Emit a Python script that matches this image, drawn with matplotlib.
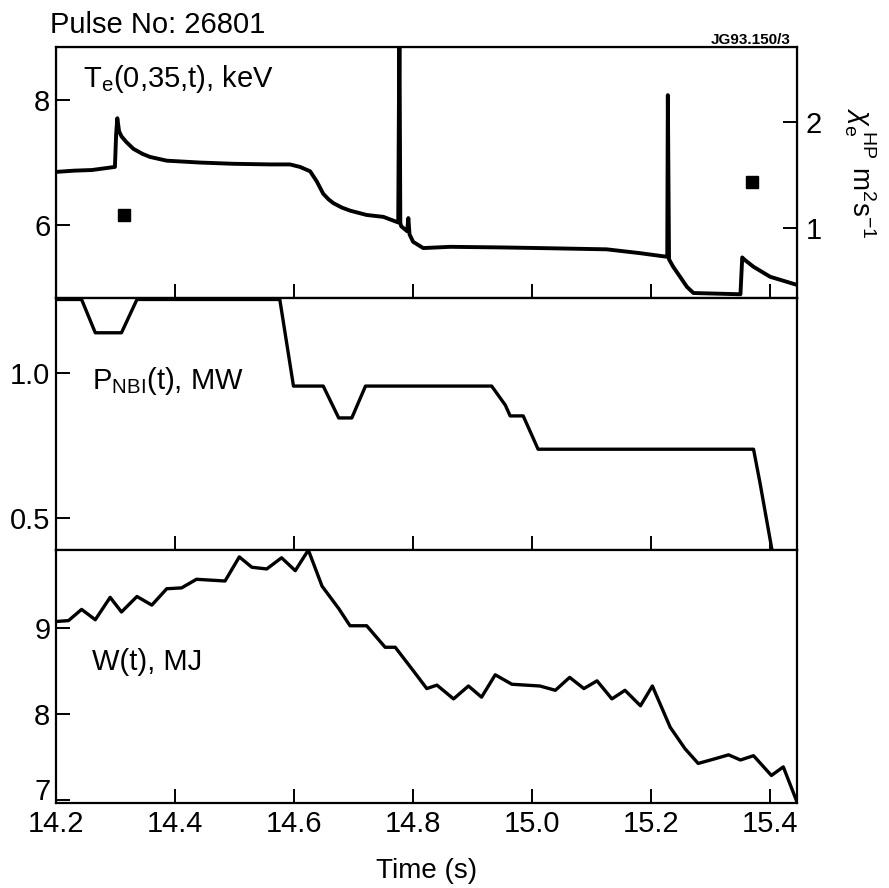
import matplotlib
matplotlib.use('Agg')
import matplotlib.pyplot as plt
import matplotlib.transforms as mtrans

plt.rcParams['font.family'] = ['Liberation Sans', 'DejaVu Sans']
plt.rcParams['mathtext.fontset'] = 'custom'
plt.rcParams['mathtext.rm'] = 'Liberation Sans'
plt.rcParams['mathtext.it'] = 'Liberation Sans:italic'

# Te(0,35,t) trace, keV
te_t = [14.200, 14.230, 14.260, 14.299, 14.301, 14.303, 14.306, 14.310, 14.318, 14.330,
        14.345, 14.358, 14.372, 14.386, 14.442, 14.498, 14.560, 14.593, 14.610, 14.627,
        14.638, 14.649, 14.658, 14.666, 14.680, 14.694, 14.722, 14.750, 14.775, 14.777,
        14.7785, 14.780, 14.790, 14.792, 14.794, 14.800, 14.817, 14.862, 14.950, 15.013,
        15.125, 15.180, 15.227, 15.228, 15.230, 15.237, 15.250, 15.260, 15.271, 15.350,
        15.353, 15.356, 15.372, 15.400, 15.445]
te_v = [6.85, 6.87, 6.88, 6.93, 7.45, 7.71, 7.50, 7.42, 7.33, 7.22,
        7.14, 7.09, 7.06, 7.03, 7.00, 6.98, 6.97, 6.97, 6.93, 6.86,
        6.70, 6.50, 6.41, 6.35, 6.28, 6.23, 6.16, 6.13, 6.04, 9.30,
        6.03, 5.98, 5.90, 6.11, 5.85, 5.73, 5.63, 5.65, 5.64, 5.63,
        5.61, 5.55, 5.49, 8.08, 5.45, 5.33, 5.15, 5.01, 4.91, 4.89,
        5.48, 5.45, 5.33, 5.17, 5.04]

# chi_e^HP points, m^2 s^-1
chi_t = [14.314, 15.370]
chi_v = [1.12, 1.44]

# P_NBI(t), MW
p_t = [14.200, 14.243, 14.266, 14.310, 14.336, 14.576, 14.599, 14.649, 14.675, 14.697,
       14.720, 14.932, 14.955, 14.963, 14.985, 15.010, 15.372, 15.383, 15.403]
p_v = [1.255, 1.255, 1.140, 1.140, 1.255, 1.255, 0.956, 0.956, 0.846, 0.846,
       0.956, 0.956, 0.890, 0.853, 0.853, 0.738, 0.738, 0.620, 0.390]

# W(t), MJ
w_t = [14.201, 14.221, 14.243, 14.266, 14.291, 14.310, 14.336, 14.361, 14.386, 14.411,
       14.436, 14.484, 14.508, 14.529, 14.554, 14.579, 14.602, 14.624, 14.647, 14.675,
       14.694, 14.722, 14.753, 14.770, 14.800, 14.823, 14.840, 14.868, 14.893, 14.915,
       14.938, 14.966, 15.013, 15.039, 15.063, 15.087, 15.109, 15.134, 15.156, 15.182,
       15.202, 15.232, 15.257, 15.279, 15.305, 15.330, 15.350, 15.372, 15.402, 15.422,
       15.444]
w_v = [9.08, 9.09, 9.22, 9.10, 9.36, 9.19, 9.37, 9.27, 9.46, 9.47,
       9.57, 9.55, 9.83, 9.71, 9.69, 9.82, 9.67, 9.91, 9.49, 9.23,
       9.03, 9.03, 8.78, 8.78, 8.51, 8.30, 8.34, 8.18, 8.33, 8.20,
       8.46, 8.35, 8.33, 8.28, 8.43, 8.30, 8.39, 8.18, 8.28, 8.10,
       8.33, 7.85, 7.60, 7.43, 7.48, 7.53, 7.47, 7.52, 7.29, 7.39,
       7.00]

xticks = [14.2, 14.4, 14.6, 14.8, 15.0, 15.2, 15.4]
xlabels = ['14.2', '14.4', '14.6', '14.8', '15.0', '15.2', '15.4']
xlim = (14.2, 15.445)

fig = plt.figure(figsize=(8.89, 8.88), dpi=100)
left, width = 0.063, 0.8335
ax1 = fig.add_axes([left, 0.6644, width, 0.2826])
ax2 = fig.add_axes([left, 0.3806, width, 0.2838])
ax3 = fig.add_axes([left, 0.0957, width, 0.2849])

for ax in (ax1, ax2, ax3):
    ax.set_xlim(*xlim)
    ax.set_xticks(xticks)
    ax.tick_params(direction='in', length=10, width=1.4, labelsize=21, pad=4)
    for s in ax.spines.values():
        s.set_linewidth(1.6)
ax1.tick_params(axis='x', labelbottom=False)
ax2.tick_params(axis='x', labelbottom=False)
ax3.tick_params(axis='x', labelsize=21, pad=5)

# top panel
ax1.plot(te_t, te_v, color='black', lw=2.8, solid_joinstyle='round')
ax1.set_ylim(4.83, 8.85)
ax1.set_yticks([6, 8])
ax1.text(0.036, 0.84, r'T$_\mathrm{e}$(0,35,t), keV', transform=ax1.transAxes,
         fontsize=21, va='baseline')
ax1r = ax1.twinx()
ax1r.set_ylim(0.34, 2.71)
ax1r.set_yticks([1, 2])
ax1r.tick_params(direction='in', length=10, width=1.4, labelsize=21, pad=6)
ax1r.plot(chi_t, chi_v, 's', color='black', ms=9)
ax1r.set_ylabel(r'$\chi_\mathrm{e}^{\ \mathrm{HP}}\ \mathrm{m}^2\mathrm{s}^{-1}$',
                rotation=270, fontsize=20, labelpad=40)

# middle panel
ax2.plot(p_t, p_v, color='black', lw=2.4)
ax2.set_ylim(0.39, 1.26)
ax2.set_yticks([0.5, 1.0])
ax2.set_yticklabels(['0.5', '1.0'])
ax2.text(0.048, 0.639, r'P$_\mathrm{NBI}$(t), MW', transform=ax2.transAxes,
         fontsize=21, va='baseline')

# bottom panel
ax3.plot(w_t, w_v, color='black', lw=2.4)
ax3.set_ylim(6.97, 9.91)
ax3.set_yticks([7, 8, 9])
ax3.set_xticklabels(xlabels)
ax3.text(0.048, 0.526, 'W(t), MJ', transform=ax3.transAxes,
         fontsize=21, va='baseline')
# lift the "7" a little so it sits above 14.2 as in the original
lab7 = ax3.get_yticklabels()[0]
lab7.set_transform(lab7.get_transform() + mtrans.ScaledTranslation(0, 8 / 72, fig.dpi_scale_trans))

fig.text(0.056, 0.9625, 'Pulse No: 26801', fontsize=21, va='baseline')
fig.text(0.889, 0.951, 'JG93.150/3', fontsize=11, fontweight='bold',
         ha='right', va='baseline')
fig.text(0.48, 0.0113, 'Time (s)', fontsize=20, ha='center', va='baseline')

fig.savefig('out.png', dpi=100)
